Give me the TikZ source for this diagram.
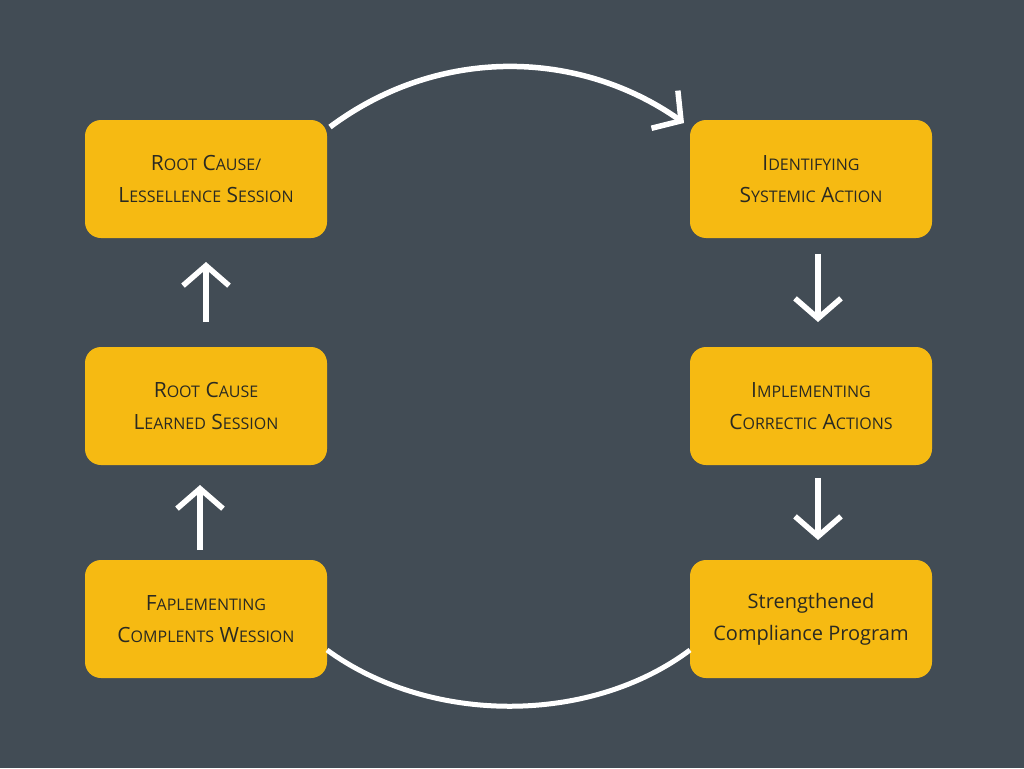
\documentclass[tikz,border=0pt]{standalone}
\usepackage{fontspec}
\setmainfont{Open Sans}
\usetikzlibrary{arrows.meta}
\definecolor{bg}{HTML}{424C55}
\definecolor{boxc}{HTML}{F6BA12}
\definecolor{txt}{HTML}{2A2A22}
\newcommand\sm[1]{{\fontsize{16}{18}\selectfont #1}}
\begin{document}
\begin{tikzpicture}[x=1pt,y=-1pt,
  box/.style={fill=boxc,rounded corners=16pt,minimum width=242pt,minimum height=118pt,align=center,text=txt,font=\fontsize{21}{32}\selectfont},
  arr/.style={draw=white,line width=5.5pt,-{Straight Barb[length=20pt,width=46pt,line width=5.5pt]}},
  arc/.style={draw=white,line width=5pt}]
\fill[bg] (0,0) rectangle (1024,768);
\useasboundingbox (0,0) rectangle (1024,768);
\node[box] (a) at (206,179) {R\sm{OOT} C\sm{AUSE/}\\L\sm{ESSELLENCE} S\sm{ESSION}};
\node[box] (b) at (206,406) {R\sm{OOT} C\sm{AUSE}\\L\sm{EARNED} S\sm{ESSION}};
\node[box] (c) at (206,619) {F\sm{APLEMENTING}\\C\sm{OMPLENTS} W\sm{ESSION}};
\node[box] (d) at (811,179) {I\sm{DENTIFYING}\\S\sm{YSTEMIC} A\sm{CTION}};
\node[box] (e) at (811,406) {I\sm{MPLEMENTING}\\C\sm{ORRECTIC} A\sm{CTIONS}};
\node[box] (f) at (811,619) {\fontsize{20}{32}\selectfont Strengthened\\\fontsize{20}{32}\selectfont Compliance Program};
\coordinate (u1s) at (206,322); \coordinate (u1e) at (206,262);
\coordinate (u2s) at (200,550); \coordinate (u2e) at (200,485);
\coordinate (d1s) at (818,254); \coordinate (d1e) at (818,322);
\coordinate (d2s) at (818,478); \coordinate (d2e) at (818,540);
\draw[arr] (u1s) -- (u1e);
\draw[arr] (u2s) -- (u2e);
\draw[arr] (d1s) -- (d1e);
\draw[arr] (d2s) -- (d2e);
\coordinate (t1) at (330,127); \coordinate (t2) at (684,123);
\draw[arr] (t1) .. controls (440,45) and (580,50) .. (t2);
\coordinate (b1) at (327,650); \coordinate (b2) at (690,650);
\draw[arc] (b1) .. controls (430,725) and (590,725) .. (b2);
\end{tikzpicture}
\end{document}
